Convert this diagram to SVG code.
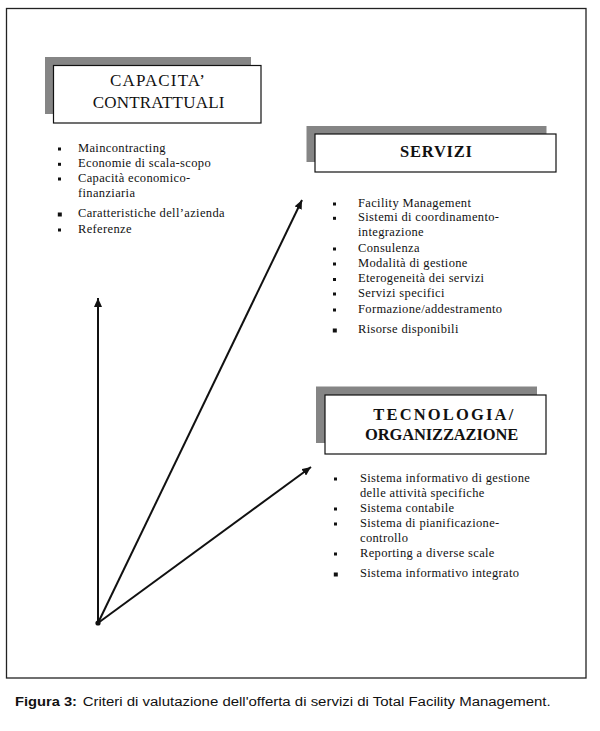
<svg xmlns="http://www.w3.org/2000/svg" width="600" height="731" viewBox="0 0 600 731">
<style>
.frame{fill:#fff;stroke:#222;stroke-width:1.3}
.shadow{fill:#858585}
.box{fill:#fff;stroke:#111;stroke-width:1.2}
.title{font-family:"Liberation Serif","Times New Roman",serif;font-size:17px;fill:#111}
.bold{font-weight:bold;font-size:16.5px}
.item{font-family:"Liberation Serif","Times New Roman",serif;font-size:12.5px;letter-spacing:0.35px;fill:#111}
.bul{fill:#111}
.conn{stroke:#111;stroke-width:2;fill:none}
.cap{font-family:"Liberation Sans",Arial,sans-serif;font-size:12px;fill:#111}
</style>
<defs>
<marker id="ah" markerUnits="userSpaceOnUse" markerWidth="10" markerHeight="8" refX="9" refY="4" orient="auto">
<path d="M0,0 L9,4 L0,8 Z" fill="#111"/>
</marker>
</defs>
<rect width="600" height="731" fill="#fff"/>
<rect class="frame" x="6.5" y="8.5" width="579.5" height="669.5"/>

<g id="capacita">
<rect class="shadow" x="45" y="57" width="206" height="57"/>
<rect class="box" x="53.5" y="65.5" width="207.5" height="57.5"/>
<text class="title" x="110" y="86" textLength="95">CAPACITA’</text>
<text class="title" x="92.7" y="108" textLength="131.7">CONTRATTUALI</text>
<g class="item">
<text x="78" y="151.7">Maincontracting</text>
<text x="78" y="167">Economie di scala-scopo</text>
<text x="78" y="181.7">Capacità economico-</text>
<text x="78" y="196.7">finanziaria</text>
<text x="78" y="216.7">Caratteristiche dell’azienda</text>
<text x="78" y="232.7">Referenze</text>
</g>
<rect class="bul" x="58" y="147.5" width="3" height="3"/>
<rect class="bul" x="58" y="162.8" width="3" height="3"/>
<rect class="bul" x="58" y="177.5" width="3" height="3"/>
<rect class="bul" x="57.8" y="212.5" width="4" height="4"/>
<rect class="bul" x="58" y="228.5" width="3" height="3"/>
</g>

<g id="servizi">
<rect class="shadow" x="306.5" y="126" width="240" height="36"/>
<rect class="box" x="315" y="134" width="241" height="38"/>
<text class="title bold" x="400" y="157" textLength="72">SERVIZI</text>
<g class="item">
<text x="358" y="206.7">Facility Management</text>
<text x="358" y="221">Sistemi di coordinamento-</text>
<text x="358" y="235.5">integrazione</text>
<text x="358" y="251.7">Consulenza</text>
<text x="358" y="266.7">Modalità di gestione</text>
<text x="358" y="282.3">Eterogeneità dei servizi</text>
<text x="358" y="296.7">Servizi specifici</text>
<text x="358" y="312.7">Formazione/addestramento</text>
<text x="358" y="332.7">Risorse disponibili</text>
</g>
<rect class="bul" x="333" y="202.5" width="3" height="3"/>
<rect class="bul" x="333" y="216.8" width="3" height="3"/>
<rect class="bul" x="333" y="247.5" width="3" height="3"/>
<rect class="bul" x="333" y="262.5" width="3" height="3"/>
<rect class="bul" x="333" y="278" width="3" height="3"/>
<rect class="bul" x="333" y="292.5" width="3" height="3"/>
<rect class="bul" x="333" y="308.5" width="3" height="3"/>
<rect class="bul" x="332.8" y="328.5" width="4" height="4"/>
</g>

<g id="tecnologia">
<rect class="shadow" x="316" y="386.5" width="221" height="56.5"/>
<rect class="box" x="325" y="395" width="221" height="59"/>
<text class="title bold" x="373.3" y="419.5" textLength="140">TECNOLOGIA/</text>
<text class="title bold" x="365" y="439.5" textLength="153.3">ORGANIZZAZIONE</text>
<g class="item">
<text x="360" y="481.7">Sistema informativo di gestione</text>
<text x="360" y="496.7">delle attività specifiche</text>
<text x="360" y="511.7">Sistema contabile</text>
<text x="360" y="526.7">Sistema di pianificazione-</text>
<text x="360" y="541.7">controllo</text>
<text x="360" y="556.7">Reporting a diverse scale</text>
<text x="360" y="576.7">Sistema informativo integrato</text>
</g>
<rect class="bul" x="334" y="477.5" width="3" height="3"/>
<rect class="bul" x="334" y="507.5" width="3" height="3"/>
<rect class="bul" x="334" y="522.5" width="3" height="3"/>
<rect class="bul" x="334" y="552.5" width="3" height="3"/>
<rect class="bul" x="333.8" y="572.5" width="4" height="4"/>
</g>

<g id="connectors">
<line class="conn" x1="98" y1="623" x2="98" y2="298" marker-end="url(#ah)"/>
<line class="conn" x1="98" y1="623" x2="302" y2="200" marker-end="url(#ah)"/>
<line class="conn" x1="98" y1="623" x2="311" y2="467" marker-end="url(#ah)"/>
<circle cx="98" cy="623" r="2.6" fill="#111"/>
</g>

<g id="caption">
<text class="cap bold" x="15" y="706" textLength="62" lengthAdjust="spacingAndGlyphs">Figura 3:</text>
<text class="cap" x="82.7" y="706" textLength="468" lengthAdjust="spacingAndGlyphs">Criteri di valutazione dell'offerta di servizi di Total Facility Management.</text>
</g>
</svg>
